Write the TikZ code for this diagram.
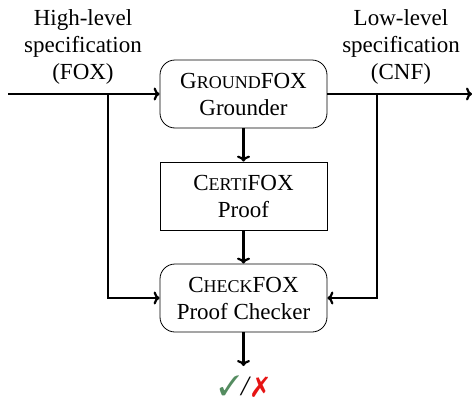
\documentclass[tikz,border=0pt]{standalone}
\usepackage{fontspec}
\setmainfont{Liberation Serif}
\usepackage{pifont}
\usetikzlibrary{arrows.meta}
\definecolor{okgreen}{RGB}{84,140,96}
\definecolor{badred}{RGB}{230,20,20}
\newcommand\smc[1]{{\fontsize{18}{18}\selectfont #1}}
\tikzset{
  box/.style={draw, line width=0.8pt, minimum width=167pt, minimum height=68pt, align=center, inner sep=0pt},
  rbox/.style={box, rounded corners=15pt},
  conn/.style={line width=2.2pt, -{To[length=6pt,width=13pt]}},
  lbl/.style={align=center}
}
\begin{document}
\begin{tikzpicture}[x=1pt,y=1pt,font=\fontsize{23}{27}\selectfont]
\useasboundingbox (0,0) rectangle (472,-402);
\node[rbox] (ground) at (243.5,-94) {G\smc{ROUND}FOX\\Grounder};
\node[box] (certi) at (243.5,-196) {C\smc{ERTI}FOX\\Proof};
\node[rbox] (check) at (243.5,-298) {C\smc{HECK}FOX\\Proof Checker};
\node[lbl] (hl) at (83,-47) {High-level\\specification\\(FOX)};
\node[lbl] (ll) at (401,-47) {Low-level\\specification\\(CNF)};
\coordinate (in) at (8,-94);
\coordinate (out) at (472,-94);
\coordinate (lj) at (108,-94);
\coordinate (lb) at (108,-298);
\coordinate (rj) at (377,-94);
\coordinate (rb) at (377,-298);
\coordinate (res) at (243.5,-366);
\node[inner sep=0pt] (mark) at (243.5,-387) {\fontsize{28}{28}\selectfont\textcolor{okgreen}{\ding{51}}\kern1pt\textit{/}\kern1pt\textcolor{badred}{\ding{55}}};
\draw[conn] (in) -- (ground.west);
\draw[conn] (ground.east) -- (out);
\draw[conn] (ground.south) -- (certi.north);
\draw[conn] (certi.south) -- (check.north);
\draw[conn] (check.south) -- (res);
\draw[conn] (lj) -- (lb) -- (check.west);
\draw[conn] (rj) -- (rb) -- (check.east);
\end{tikzpicture}
\end{document}
